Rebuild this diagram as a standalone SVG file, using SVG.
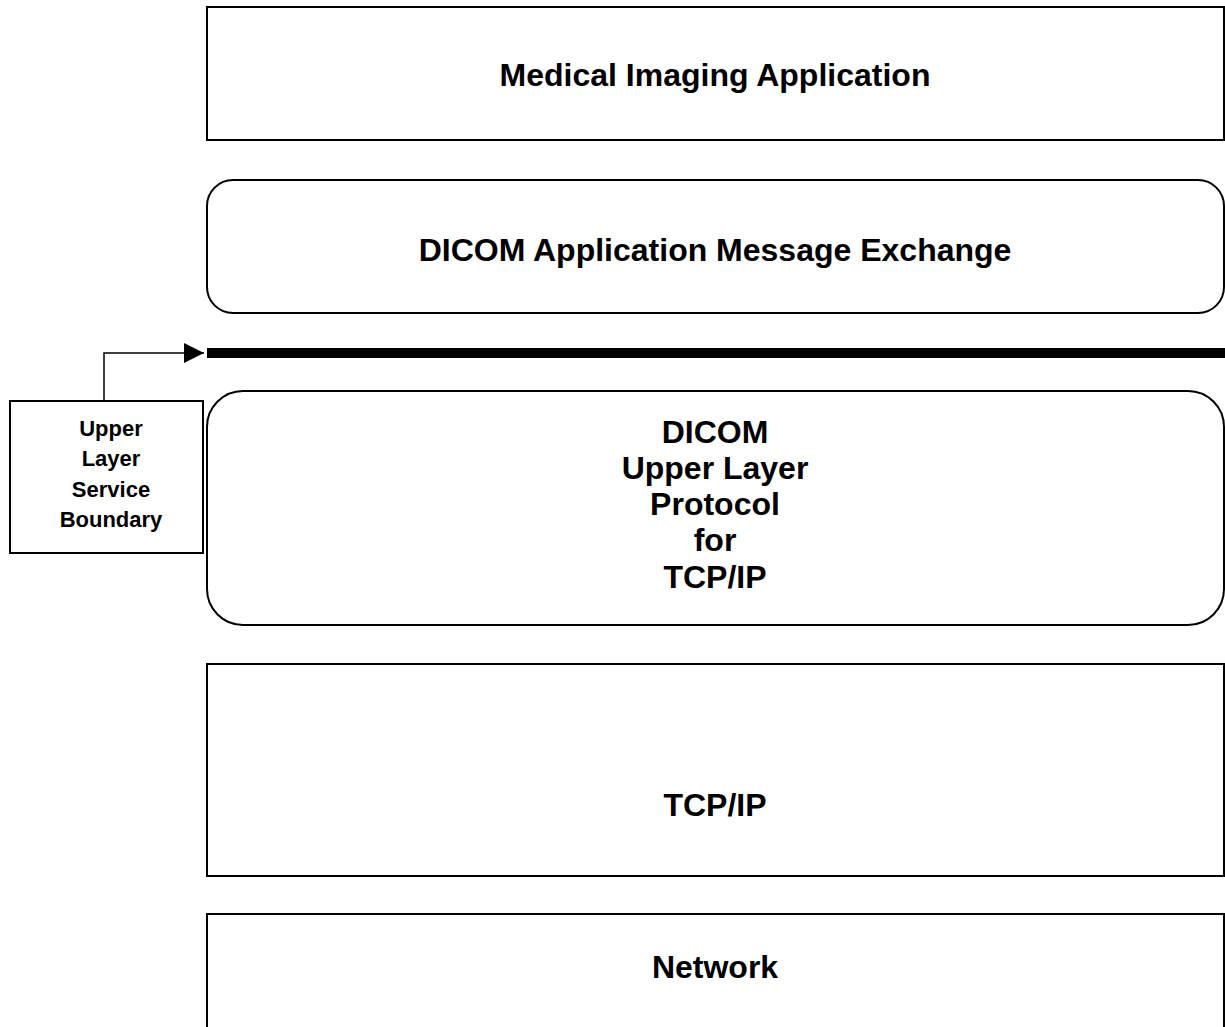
<svg xmlns="http://www.w3.org/2000/svg" width="1225" height="1027" viewBox="0 0 1225 1027">
<style>
.box{fill:#fff;stroke:#000;stroke-width:2}
.t{font-family:"Liberation Sans",Arial,sans-serif;font-weight:bold;font-size:32px;text-anchor:middle;fill:#000}
.s{font-family:"Liberation Sans",Arial,sans-serif;font-weight:bold;font-size:22px;text-anchor:middle;fill:#000}
</style>
<defs>
<marker id="ah" markerWidth="20" markerHeight="20" refX="20" refY="10" orient="auto" markerUnits="userSpaceOnUse" viewBox="0 0 20 20">
<path d="M0,0 L20,10 L0,20 z" fill="#000"/>
</marker>
</defs>
<rect width="1225" height="1027" fill="#fff"/>
<g id="app">
<rect class="box" x="207" y="7" width="1017" height="133"/>
<text class="t" x="715" y="86">Medical Imaging Application</text>
</g>
<g id="msg">
<rect class="box" x="207" y="180" width="1017" height="133" rx="26" ry="26"/>
<text class="t" x="715" y="261">DICOM Application Message Exchange</text>
</g>
<g id="boundary">
<rect x="207" y="348" width="1018" height="10" fill="#000"/>
</g>
<g id="ul">
<rect class="box" x="207" y="391" width="1017" height="234" rx="36" ry="36"/>
<text class="t" x="715" y="443">DICOM</text>
<text class="t" x="715" y="479">Upper Layer</text>
<text class="t" x="715" y="515">Protocol</text>
<text class="t" x="715" y="551">for</text>
<text class="t" x="715" y="588">TCP/IP</text>
</g>
<g id="tcp">
<rect class="box" x="207" y="664" width="1017" height="212"/>
<text class="t" x="715" y="816">TCP/IP</text>
</g>
<g id="net">
<rect class="box" x="207" y="914" width="1017" height="130"/>
<text class="t" x="715" y="978">Network</text>
</g>
<g id="label">
<rect class="box" x="10" y="401" width="193" height="152"/>
<text class="s" x="111" y="436">Upper</text>
<text class="s" x="111" y="466">Layer</text>
<text class="s" x="111" y="497">Service</text>
<text class="s" x="111" y="527">Boundary</text>
</g>
<g id="connectors">
<path d="M104,401 V353 H204" fill="none" stroke="#000" stroke-width="1.5" marker-end="url(#ah)"/>
</g>
</svg>
